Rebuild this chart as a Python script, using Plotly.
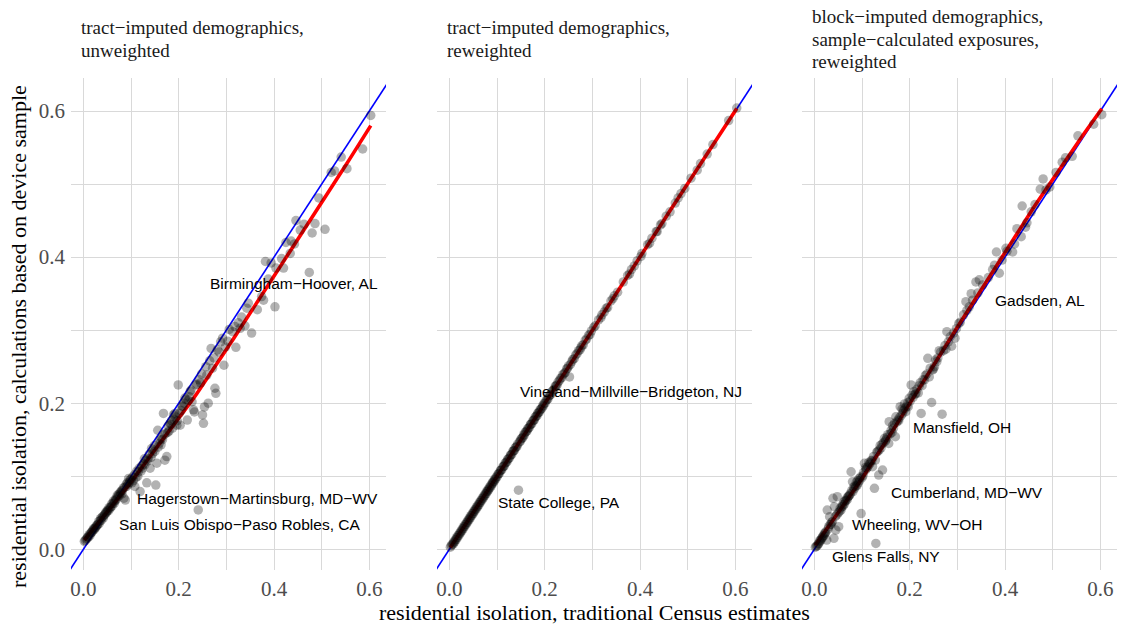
import numpy as np
import plotly.graph_objects as go

# Residential isolation by metro area: traditional Census estimate (x)
# against three device-sample based calculations (y, one per panel).
census_iso = [
    0.603, 0.586, 0.553, 0.541, 0.527, 0.520, 0.507, 0.494, 0.486, 0.480,
    0.474, 0.463, 0.455, 0.446, 0.443, 0.436, 0.434, 0.425, 0.420, 0.416,
    0.404, 0.402, 0.394, 0.388, 0.382, 0.378, 0.374, 0.365, 0.353, 0.346,
    0.343, 0.339, 0.332, 0.329, 0.325, 0.320, 0.318, 0.313, 0.306, 0.303,
    0.298, 0.295, 0.292, 0.288, 0.285, 0.281, 0.278, 0.276, 0.274, 0.271,
    0.268, 0.265, 0.262, 0.259, 0.257, 0.254, 0.252, 0.250, 0.248, 0.246,
    0.243, 0.241, 0.238, 0.236, 0.233, 0.231, 0.228, 0.226, 0.224, 0.222,
    0.220, 0.218, 0.215, 0.213, 0.211, 0.209, 0.207, 0.205, 0.203, 0.201,
    0.199, 0.197, 0.196, 0.194, 0.192, 0.190, 0.189, 0.187, 0.185, 0.184,
    0.182, 0.180, 0.178, 0.177, 0.175, 0.173, 0.171, 0.170, 0.168, 0.166,
    0.164, 0.163, 0.161, 0.159, 0.157, 0.156, 0.154, 0.152, 0.150, 0.149,
    0.147, 0.145, 0.143, 0.142, 0.140, 0.138, 0.136, 0.135, 0.133, 0.131,
    0.129, 0.128, 0.126, 0.124, 0.122, 0.121, 0.119, 0.117, 0.115, 0.114,
    0.112, 0.110, 0.108, 0.107, 0.105, 0.103, 0.102, 0.100,
    0.098, 0.097, 0.095, 0.094, 0.092, 0.091, 0.090, 0.088, 0.087, 0.085,
    0.084, 0.082, 0.081, 0.080, 0.078, 0.077, 0.075, 0.074, 0.072, 0.071,
    0.069, 0.068, 0.066, 0.065, 0.063, 0.062, 0.060, 0.059, 0.057, 0.056,
    0.054, 0.053, 0.051, 0.050, 0.048, 0.047, 0.045, 0.044, 0.042, 0.041,
    0.039, 0.038, 0.036, 0.035, 0.033, 0.032, 0.030, 0.029, 0.027, 0.026,
    0.024, 0.023, 0.021, 0.020, 0.018, 0.017, 0.015, 0.014, 0.012, 0.011,
    0.009, 0.008, 0.006, 0.004, 0.002,
]

tract_unweighted = [
    0.594, 0.548, 0.521, 0.537, 0.518, 0.516, 0.438, 0.481, 0.446, 0.433,
    0.379, 0.445, 0.437, 0.450, 0.418, 0.422, 0.405, 0.420, 0.385, 0.398,
    0.385, 0.332, 0.392, 0.370, 0.394, 0.341, 0.346, 0.328, 0.296, 0.337,
    0.330, 0.306, 0.318, 0.3025, 0.310, 0.2765, 0.305, 0.298, 0.301, 0.285,
    0.277, 0.252, 0.289, 0.284, 0.270, 0.273, 0.2135, 0.2205, 0.262, 0.248,
    0.275, 0.258, 0.200, 0.2385, 0.250, 0.195, 0.1725, 0.184, 0.240, 0.228,
    0.232, 0.054, 0.226, 0.225, 0.188, 0.191, 0.202, 0.218, 0.216, 0.209,
    0.204, 0.177, 0.205, 0.207, 0.200, 0.196, 0.196, 0.190, 0.170, 0.186,
    0.225, 0.176, 0.170, 0.181, 0.186, 0.178, 0.184, 0.166, 0.176, 0.171,
    0.172, 0.162, 0.169, 0.160, 0.127, 0.159, 0.122, 0.157, 0.186, 0.150,
    0.152, 0.143, 0.150, 0.145, 0.140, 0.163, 0.118, 0.088, 0.134, 0.142,
    0.136, 0.131, 0.138, 0.126, 0.111, 0.130, 0.124, 0.121, 0.091, 0.122,
    0.116, 0.124, 0.117, 0.111, 0.114, 0.107, 0.079, 0.111, 0.106, 0.100,
    0.107, 0.098, 0.086, 0.102, 0.094, 0.099, 0.091, 0.096,
    0.095, 0.092, 0.097, 0.089, 0.091, 0.086, 0.089, 0.0675, 0.085, 0.070,
    0.084, 0.081, 0.076, 0.080, 0.077, 0.078, 0.073, 0.075, 0.072, 0.074,
    0.068, 0.069, 0.066, 0.063, 0.066, 0.063, 0.059, 0.062, 0.058, 0.056,
    0.057, 0.053, 0.054, 0.052, 0.050, 0.051, 0.048, 0.047, 0.043, 0.045,
    0.044, 0.040, 0.042, 0.039, 0.035, 0.038, 0.034, 0.033, 0.032, 0.030,
    0.029, 0.027, 0.028, 0.026, 0.024, 0.023, 0.022, 0.019, 0.020, 0.017,
    0.017, 0.015, 0.014, 0.012, 0.011,
]

tract_reweighted = [
    0.604, 0.587, 0.554, 0.541, 0.528, 0.519, 0.508, 0.494, 0.487, 0.481,
    0.474, 0.462, 0.456, 0.446, 0.444, 0.435, 0.435, 0.426, 0.419, 0.417,
    0.405, 0.401, 0.395, 0.388, 0.383, 0.377, 0.375, 0.366, 0.352, 0.347,
    0.343, 0.340, 0.331, 0.330, 0.325, 0.321, 0.317, 0.314, 0.306, 0.304,
    0.299, 0.294, 0.293, 0.288, 0.286, 0.280, 0.279, 0.276, 0.273, 0.272,
    0.268, 0.266, 0.261, 0.260, 0.257, 0.253, 0.236, 0.251, 0.248, 0.247,
    0.242, 0.241, 0.239, 0.235, 0.234, 0.231, 0.229, 0.225, 0.224, 0.223,
    0.219, 0.218, 0.216, 0.212, 0.211, 0.210, 0.206, 0.205, 0.204, 0.200,
    0.200, 0.196, 0.197, 0.193, 0.192, 0.191, 0.188, 0.187, 0.186, 0.183,
    0.182, 0.181, 0.177, 0.177, 0.176, 0.172, 0.171, 0.171, 0.167, 0.166,
    0.165, 0.162, 0.161, 0.160, 0.156, 0.157, 0.153, 0.152, 0.151, 0.148,
    0.147, 0.081, 0.144, 0.141, 0.140, 0.139, 0.135, 0.135, 0.134, 0.130,
    0.129, 0.129, 0.125, 0.124, 0.123, 0.120, 0.119, 0.118, 0.114, 0.114,
    0.113, 0.109, 0.108, 0.108, 0.104, 0.103, 0.103, 0.099,
    0.099, 0.096, 0.096, 0.093, 0.093, 0.090, 0.091, 0.087, 0.088, 0.084,
    0.085, 0.081, 0.082, 0.079, 0.079, 0.076, 0.076, 0.073, 0.073, 0.070,
    0.070, 0.067, 0.067, 0.064, 0.064, 0.061, 0.061, 0.058, 0.058, 0.055,
    0.055, 0.052, 0.052, 0.049, 0.049, 0.046, 0.046, 0.043, 0.043, 0.040,
    0.040, 0.037, 0.037, 0.034, 0.034, 0.031, 0.031, 0.028, 0.028, 0.025,
    0.025, 0.022, 0.022, 0.019, 0.019, 0.016, 0.016, 0.013, 0.013, 0.010,
    0.010, 0.007, 0.007, 0.005, 0.003,
]

block_reweighted = [
    0.595, 0.582, 0.566, 0.538, 0.536, 0.530, 0.516, 0.496, 0.492, 0.507,
    0.493, 0.472, 0.462, 0.447, 0.441, 0.470, 0.428, 0.439, 0.418, 0.407,
    0.408, 0.412, 0.396, 0.378, 0.407, 0.389, 0.383, 0.372, 0.362, 0.369,
    0.351, 0.366, 0.341, 0.350, 0.332, 0.327, 0.339, 0.321, 0.311, 0.309,
    0.302, 0.289, 0.296, 0.278, 0.291, 0.284, 0.298, 0.274, 0.279, 0.272,
    0.185, 0.270, 0.272, 0.262, 0.257, 0.259, 0.250, 0.247, 0.2455, 0.201,
    0.248, 0.236, 0.2615, 0.240, 0.238, 0.2318, 0.232, 0.224, 0.186, 0.228,
    0.224, 0.214, 0.219, 0.2135, 0.212, 0.216, 0.208, 0.211, 0.225, 0.203,
    0.2067, 0.1952, 0.201, 0.196, 0.1884, 0.193, 0.199, 0.190, 0.186, 0.192,
    0.183, 0.1952, 0.180, 0.176, 0.177, 0.174, 0.1815, 0.1541, 0.172, 0.166,
    0.169, 0.160, 0.163, 0.158, 0.1747, 0.145, 0.157, 0.153, 0.150, 0.148,
    0.152, 0.146, 0.1086, 0.144, 0.139, 0.142, 0.136, 0.1017, 0.134, 0.133,
    0.008, 0.1222, 0.0835, 0.127, 0.1131, 0.122, 0.121, 0.118, 0.116, 0.119,
    0.113, 0.111, 0.109, 0.112, 0.1177, 0.105, 0.101, 0.098,
    0.049, 0.099, 0.094, 0.097, 0.091, 0.094, 0.088, 0.092, 0.086, 0.087,
    0.083, 0.085, 0.079, 0.0925, 0.080, 0.1062, 0.076, 0.074, 0.073, 0.072,
    0.068, 0.070, 0.066, 0.067, 0.062, 0.065, 0.059, 0.061, 0.058, 0.054,
    0.056, 0.052, 0.031, 0.050, 0.072, 0.047, 0.0264, 0.045, 0.0583, 0.015,
    0.0698, 0.038, 0.037, 0.034, 0.034, 0.0446, 0.031, 0.028, 0.0538, 0.0127,
    0.024, 0.022, 0.022, 0.019, 0.018, 0.016, 0.015, 0.013, 0.011, 0.012,
    0.008, 0.007, 0.005, 0.004, 0.003,
]

panel_titles = [
    "tract\u2212imputed demographics,\nunweighted",
    "tract\u2212imputed demographics,\nreweighted",
    "block\u2212imputed demographics,\nsample\u2212calculated exposures,\nreweighted",
]

# Metro names shown next to notable points, per panel
metro_labels = [
    ["Birmingham\u2212Hoover, AL",
     "Hagerstown\u2212Martinsburg, MD\u2212WV",
     "San Luis Obispo\u2212Paso Robles, CA"],
    ["Vineland\u2212Millville\u2212Bridgeton, NJ",
     "State College, PA"],
    ["Gadsden, AL", "Mansfield, OH", "Cumberland, MD\u2212WV",
     "Wheeling, WV\u2212OH", "Glens Falls, NY"],
]

tick_vals = [0.0, 0.2, 0.4, 0.6]
tick_text = ["0.0", "0.2", "0.4", "0.6"]

x_title = "residential isolation, traditional Census estimates"
y_title = "residential isolation, calculations based on device sample"

# ---- layout geometry (pixels) ----
W, H = 1122, 628
panel_left = [71, 437, 802]
panel_w = 315
panel_top, panel_bottom = 78, 570
x_range = [-0.026, 0.635]
y_range = [-0.0283, 0.6452]

# label anchors (left edge, vertical middle) in data units, per panel
label_pos = [
    [(0.262, 0.3645), (0.1085, 0.0702), (0.0707, 0.0346)],
    [(0.1442, 0.2167), (0.098, 0.0647)],
    [(0.3757, 0.3413), (0.2036, 0.1674), (0.1574, 0.0784),
     (0.0756, 0.0346), (0.0336, -0.0092)],
]

SERIF = "Liberation Serif"
SANS = "Liberation Sans"
GRID = "#d9d9d9"


def loess(x, y, xo, span=0.75):
    """Local quadratic regression with tricube weights (as stats::loess)."""
    n = len(x)
    q = int(np.floor(n * span))
    out = np.empty(len(xo))
    for j, x0 in enumerate(xo):
        d = np.abs(x - x0)
        h = np.sort(d)[q - 1]
        w = np.clip(1 - (d / h) ** 3, 0, None) ** 3
        A = np.vstack([np.ones(n), x - x0, (x - x0) ** 2]).T
        sw = np.sqrt(w)
        coef, *_ = np.linalg.lstsq(A * sw[:, None], y * sw, rcond=None)
        out[j] = coef[0]
    return out


fig = go.Figure()
series = [tract_unweighted, tract_reweighted, block_reweighted]
xs = np.array(census_iso)

for i, ys in enumerate(series):
    ys = np.array(ys)
    sfx = "" if i == 0 else str(i + 1)
    xa, ya = "x" + sfx, "y" + sfx

    # 45-degree reference line
    fig.add_trace(go.Scatter(
        x=[x_range[0] - 0.1, x_range[1] + 0.1],
        y=[x_range[0] - 0.1, x_range[1] + 0.1],
        mode="lines", line=dict(color="#0000ff", width=1.6),
        xaxis=xa, yaxis=ya, hoverinfo="skip", showlegend=False))

    # loess smoother
    fx = np.linspace(xs.min(), xs.max(), 80)
    fig.add_trace(go.Scatter(
        x=fx, y=loess(xs, ys, fx), mode="lines",
        line=dict(color="#ff0000", width=3.6),
        xaxis=xa, yaxis=ya, hoverinfo="skip", showlegend=False))

    fig.add_trace(go.Scatter(
        x=xs, y=ys, mode="markers",
        marker=dict(size=9.5, color="rgba(0,0,0,0.3)", line=dict(width=0)),
        xaxis=xa, yaxis=ya, showlegend=False))

    # metro name labels
    for name, (lx, ly) in zip(metro_labels[i], label_pos[i]):
        fig.add_annotation(
            x=lx, y=ly, xref=xa, yref=ya, text=name, showarrow=False,
            xanchor="left", yanchor="middle",
            font=dict(family=SANS, size=15.5, color="#000000"))

    # panel title, one annotation per line
    lines = panel_titles[i].split("\n")
    centre, step = 39.0, 22.5
    for k, line in enumerate(lines):
        ypx = centre + (k - (len(lines) - 1) / 2) * step
        fig.add_annotation(
            x=(panel_left[i] + 8) / W, y=1 - ypx / H, xref="paper", yref="paper",
            text=line, showarrow=False, xanchor="left", yanchor="middle",
            font=dict(family=SERIF, size=19, color="#1a1a1a"))

    dom_x = [panel_left[i] / W, (panel_left[i] + panel_w) / W]
    dom_y = [1 - panel_bottom / H, 1 - panel_top / H]
    axis_common = dict(
        showgrid=True, gridcolor=GRID, gridwidth=1, zeroline=False,
        showline=False, ticks="", tickmode="array",
        tickvals=tick_vals, ticktext=tick_text,
        tickfont=dict(family=SERIF, size=21, color="#4d4d4d"),
        minor=dict(tickmode="array", tickvals=[0.1, 0.3, 0.5],
                   showgrid=True, gridcolor=GRID, gridwidth=1),
    )
    fig.layout["xaxis" + sfx] = dict(
        domain=dom_x, range=x_range, anchor=ya, ticklabelstandoff=4,
        **axis_common)
    fig.layout["yaxis" + sfx] = dict(
        domain=dom_y, range=y_range, anchor=xa,
        showticklabels=(i == 0), ticklabelstandoff=5, **axis_common)

fig.add_annotation(
    x=594 / W, y=1 - 612 / H, xref="paper", yref="paper", text=x_title,
    showarrow=False, xanchor="center", yanchor="middle",
    font=dict(family=SERIF, size=22, color="#000000"))
fig.add_annotation(
    x=18 / W, y=1 - 337 / H, xref="paper", yref="paper", text=y_title,
    showarrow=False, textangle=-90, xanchor="center", yanchor="middle",
    font=dict(family=SERIF, size=22, color="#000000"))

fig.update_layout(
    width=W, height=H, margin=dict(l=0, r=0, t=0, b=0),
    paper_bgcolor="white", plot_bgcolor="white", showlegend=False)

fig.write_html("out.html")
